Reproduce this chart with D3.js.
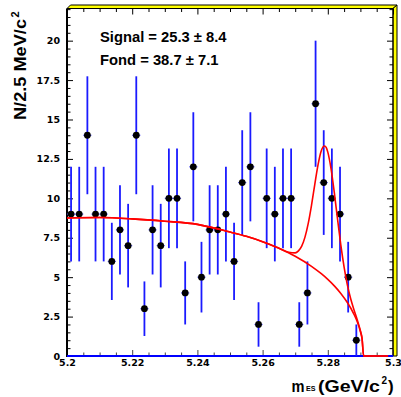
<!DOCTYPE html>
<html>
<head>
<meta charset="utf-8">
<script src="https://cdn.jsdelivr.net/npm/d3@7"></script>
<style>
  html, body { margin: 0; padding: 0; background: #ffffff; }
  svg { display: block; }
</style>
</head>
<body>
<svg id="chart" width="401" height="397"></svg>
<script>
// ---- data ----
const binCenters = [5.20125, 5.20375, 5.20625, 5.20875, 5.21125, 5.21375, 5.21625, 5.21875,
  5.22125, 5.22375, 5.22625, 5.22875, 5.23125, 5.23375, 5.23625, 5.23875,
  5.24125, 5.24375, 5.24625, 5.24875, 5.25125, 5.25375, 5.25625, 5.25875,
  5.26125, 5.26375, 5.26625, 5.26875, 5.27125, 5.27375, 5.27625, 5.27875,
  5.28125, 5.28375, 5.28625, 5.28875];
const counts = [9, 9, 14, 9, 9, 6, 8, 7, 14, 3, 8, 7, 10, 10, 4, 12,
  5, 8, 8, 9, 6, 11, 12, 2, 10, 9, 10, 10, 2, 4, 16, 11, 10, 9, 5, 1];
const errors = [3, 3, 3.74, 3, 3, 2.45, 2.83, 2.65, 3.74, 1.73, 2.83, 2.65, 3.16, 3.16, 2, 3.46,
  2.24, 2.83, 2.83, 3, 2.45, 3.32, 3.46, 1.41, 3.16, 3, 3.16, 3.16, 1.41, 2, 4, 3.32, 3.16, 3, 2.24, 1];
const binHalfWidth = 0.00125;

const bgCurveM = [5.200, 5.210, 5.220, 5.230, 5.240, 5.250, 5.255, 5.260, 5.265, 5.270, 5.275, 5.278,
  5.280, 5.282, 5.284, 5.286, 5.288, 5.289, 5.290, 5.2905, 5.291, 5.2925, 5.2985];
const bgCurveY = [8.75, 8.78, 8.70, 8.55, 8.35, 7.86, 7.59, 7.25, 6.84, 6.33, 5.69, 5.22,
  4.86, 4.45, 3.97, 3.39, 2.66, 2.19, 1.55, 1.10, 0, 0, 0];

const totalCurveM = [5.200, 5.210, 5.220, 5.230, 5.240, 5.250, 5.255, 5.260, 5.265, 5.268, 5.270, 5.271,
  5.272, 5.273, 5.274, 5.275, 5.276, 5.277, 5.278, 5.279, 5.2795, 5.280, 5.281, 5.282, 5.283, 5.284,
  5.285, 5.286, 5.287, 5.288, 5.289, 5.290, 5.2905, 5.291, 5.2925, 5.2985];
const totalCurveY = [8.75, 8.78, 8.70, 8.55, 8.35, 7.86, 7.59, 7.25, 6.84, 6.58, 6.54, 6.67,
  6.97, 7.54, 8.41, 9.56, 10.87, 12.12, 13.02, 13.32, 13.23, 12.93, 11.87, 10.36, 8.66, 7.03,
  5.64, 4.51, 3.65, 2.95, 2.32, 1.60, 1.13, 0, 0, 0];

const xTickValues = [5.2, 5.22, 5.24, 5.26, 5.28, 5.3];
const xTickLabels = ["5.2", "5.22", "5.24", "5.26", "5.28", "5.3"];
const xMinorTicks = [5.205, 5.21, 5.215, 5.225, 5.23, 5.235, 5.245, 5.25, 5.255,
  5.265, 5.27, 5.275, 5.285, 5.29, 5.295];
const yTickValues = [0, 2.5, 5, 7.5, 10, 12.5, 15, 17.5, 20];
const yTickLabels = ["0", "2.5", "5", "7.5", "10", "12.5", "15", "17.5", "20"];
const yMinorTicks = [0.5, 1, 1.5, 2, 3, 3.5, 4, 4.5, 5.5, 6, 6.5, 7, 8, 8.5, 9, 9.5,
  10.5, 11, 11.5, 12, 13, 13.5, 14, 14.5, 15.5, 16, 16.5, 17, 18, 18.5, 19, 19.5,
  20.5, 21, 21.5, 22];

const signalText = "Signal = 25.3 \u00b1 8.4";
const fondText = "Fond = 38.7 \u00b1 7.1";

// ---- drawing ----
const svg = d3.select("#chart");
const L = 67, R = 393, T = 8.5, B = 356;
const x = d3.scaleLinear().domain([5.2, 5.3]).range([L, R]);
const y = d3.scaleLinear().domain([0, 22.04]).range([B, T]);

svg.append("rect").attr("width", 401).attr("height", 397).attr("fill", "#fff");

// bevel (yellow) on top and right
svg.append("polygon")
  .attr("points", [[L, T], [L + 3.5, 5], [397, 5], [R, T]].map(p => p.join(",")).join(" "))
  .attr("fill", "#ffff00").attr("stroke", "#000").attr("stroke-width", 1);
svg.append("polygon")
  .attr("points", [[R, T], [397, 5], [397, B], [R, B]].map(p => p.join(",")).join(" "))
  .attr("fill", "#ffff00").attr("stroke", "#000").attr("stroke-width", 1);

const tickFont = "'DejaVu Sans', sans-serif";

// left axis
const yAxis = svg.append("g").attr("transform", `translate(${L},0)`)
  .call(d3.axisLeft(y).tickValues(yTickValues).tickSize(-6).tickPadding(7)
    .tickFormat((d, i) => yTickLabels[i]));
yAxis.select(".domain").remove();
yAxis.selectAll("text").attr("font-family", tickFont).attr("font-weight", "bold")
  .attr("font-size", "9.5px").attr("fill", "#000");
const yMinor = svg.append("g").attr("transform", `translate(${L},0)`)
  .call(d3.axisLeft(y).tickValues(yMinorTicks).tickSize(-3.5).tickFormat(""));
yMinor.select(".domain").remove();

// right axis ticks
const yAxisR = svg.append("g").attr("transform", `translate(${R},0)`)
  .call(d3.axisRight(y).tickValues(yTickValues).tickSize(-6).tickFormat(""));
yAxisR.select(".domain").remove();
const yMinorR = svg.append("g").attr("transform", `translate(${R},0)`)
  .call(d3.axisRight(y).tickValues(yMinorTicks).tickSize(-3.5).tickFormat(""));
yMinorR.select(".domain").remove();

// bottom axis
const xAxis = svg.append("g").attr("transform", `translate(0,${B})`)
  .call(d3.axisBottom(x).tickValues(xTickValues).tickSize(-6).tickPadding(3.5)
    .tickFormat((d, i) => xTickLabels[i]));
xAxis.select(".domain").remove();
xAxis.selectAll("line").attr("stroke", "#444");
xAxis.selectAll("text").attr("font-family", tickFont).attr("font-weight", "bold")
  .attr("font-size", "9.5px").attr("fill", "#000");
const xMinor = svg.append("g").attr("transform", `translate(0,${B})`)
  .call(d3.axisBottom(x).tickValues(xMinorTicks).tickSize(-3.5).tickFormat(""));
xMinor.select(".domain").remove();
xMinor.selectAll("line").attr("stroke", "#444");

// top axis ticks
const xAxisT = svg.append("g").attr("transform", `translate(0,${T})`)
  .call(d3.axisTop(x).tickValues(xTickValues).tickSize(-6).tickFormat(""));
xAxisT.select(".domain").remove();
const xMinorT = svg.append("g").attr("transform", `translate(0,${T})`)
  .call(d3.axisTop(x).tickValues(xMinorTicks).tickSize(-3.5).tickFormat(""));
xMinorT.select(".domain").remove();

// frame lines
svg.append("line").attr("x1", L).attr("x2", R).attr("y1", T).attr("y2", T)
  .attr("stroke", "#000").attr("stroke-width", 1);
svg.append("line").attr("x1", R).attr("x2", R).attr("y1", T).attr("y2", B)
  .attr("stroke", "#000").attr("stroke-width", 1);
svg.append("line").attr("x1", L).attr("x2", L).attr("y1", T).attr("y2", B + 1)
  .attr("stroke", "#000").attr("stroke-width", 2);
svg.append("line").attr("x1", L).attr("x2", R).attr("y1", B).attr("y2", B)
  .attr("stroke", "#0000ff").attr("stroke-width", 2);

// data: error bars + markers
const pts = binCenters.map((m, i) => ({ m, n: counts[i], e: errors[i] }));
const gData = svg.append("g");
gData.selectAll("line.ey").data(pts).join("line").attr("class", "ey")
  .attr("x1", d => x(d.m)).attr("x2", d => x(d.m))
  .attr("y1", d => y(d.n - d.e)).attr("y2", d => y(d.n + d.e))
  .attr("stroke", "#1a1aff").attr("stroke-width", 1.8);
gData.selectAll("line.ex").data(pts).join("line").attr("class", "ex")
  .attr("x1", d => x(d.m - binHalfWidth)).attr("x2", d => x(d.m + binHalfWidth))
  .attr("y1", d => y(d.n)).attr("y2", d => y(d.n))
  .attr("stroke", "#5a5aff").attr("stroke-width", 1.2);
gData.selectAll("circle").data(pts).join("circle")
  .attr("cx", d => x(d.m)).attr("cy", d => y(d.n)).attr("r", 3.4)
  .attr("fill", "#000");

// fit curves
const line = d3.line().x(d => x(d[0])).y(d => y(d[1])).curve(d3.curveMonotoneX);
svg.append("path").datum(bgCurveM.map((m, i) => [m, bgCurveY[i]]))
  .attr("d", line).attr("fill", "none").attr("stroke", "#ff0000").attr("stroke-width", 1.6);
svg.append("path").datum(totalCurveM.map((m, i) => [m, totalCurveY[i]]))
  .attr("d", line).attr("fill", "none").attr("stroke", "#ff0000").attr("stroke-width", 1.6);

// annotations
const annFont = "'Liberation Sans', Arial, sans-serif";
svg.append("text").attr("x", 100).attr("y", 41.5).text(signalText)
  .attr("font-family", annFont).attr("font-weight", "bold").attr("font-size", "14.5px")
  .attr("textLength", 126.5).attr("lengthAdjust", "spacingAndGlyphs").attr("fill", "#000");
svg.append("text").attr("x", 100).attr("y", 65).text(fondText)
  .attr("font-family", annFont).attr("font-weight", "bold").attr("font-size", "14.5px")
  .attr("textLength", 118.5).attr("lengthAdjust", "spacingAndGlyphs").attr("fill", "#000");

// y title
const yt = svg.append("text").attr("transform", "translate(26,120) rotate(-90)")
  .attr("font-family", annFont).attr("font-weight", "bold").attr("font-size", "17px").attr("fill", "#000");
yt.append("tspan").attr("x", 0).attr("y", 0).text("N/2.5 MeV/c")
  .attr("textLength", 101).attr("lengthAdjust", "spacingAndGlyphs");
yt.append("tspan").attr("x", 102.5).attr("y", -7).attr("font-size", "11px").text("2");

// x title
const xt = svg.append("text").attr("font-family", annFont).attr("font-weight", "bold")
  .attr("font-size", "17px").attr("fill", "#000");
xt.append("tspan").attr("x", 291.5).attr("y", 391.5).text("m")
  .attr("textLength", 13).attr("lengthAdjust", "spacingAndGlyphs");
xt.append("tspan").attr("x", 306).attr("y", 390.5).attr("font-size", "8px").text("ES")
  .attr("textLength", 9.5).attr("lengthAdjust", "spacingAndGlyphs");
xt.append("tspan").attr("x", 318).attr("y", 391.5).text("(GeV/c")
  .attr("textLength", 62).attr("lengthAdjust", "spacingAndGlyphs");
xt.append("tspan").attr("x", 381.5).attr("y", 384).attr("font-size", "10px").text("2");
xt.append("tspan").attr("x", 388).attr("y", 391.5).text(")");
</script>
</body>
</html>
